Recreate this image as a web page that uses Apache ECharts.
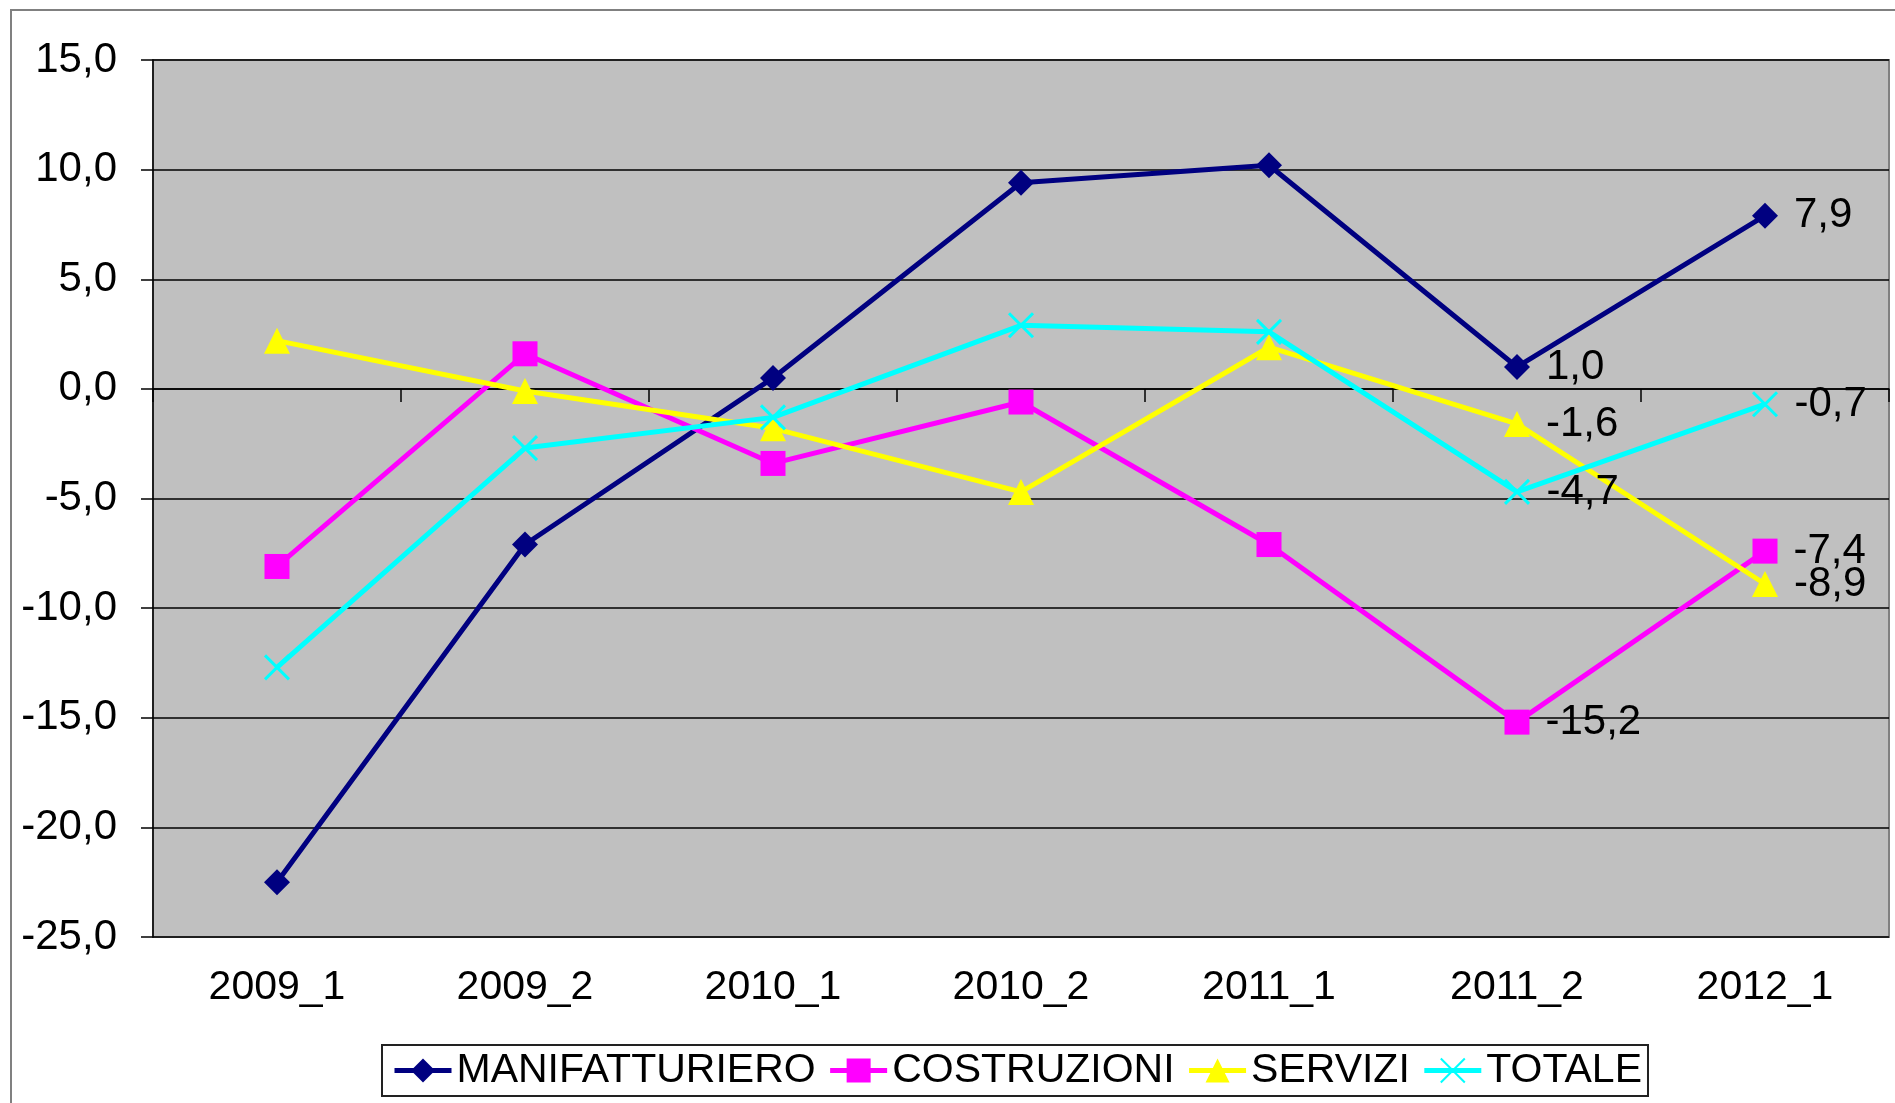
<!DOCTYPE html>
<html>
<head>
<meta charset="utf-8">
<title>Andamento per settore</title>
<script src="https://cdn.jsdelivr.net/npm/echarts@6/dist/echarts.min.js"></script>
<style>
  html, body { margin: 0; padding: 0; background: #fff; }
  #chart { width: 1895px; height: 1103px; }
</style>
</head>
<body>
<div id="chart"></div>
<script>
// categorie (semestri)
const periodi = ["2009_1", "2009_2", "2010_1", "2010_2", "2011_1", "2011_2", "2012_1"];
// valori
const manifatturiero = [-22.5, -7.1, 0.5, 9.4, 10.2, 1.0, 7.9];
const costruzioni = [-8.1, 1.6, -3.4, -0.6, -7.1, -15.2, -7.4];
const servizi = [2.2, -0.1, -1.8, -4.7, 1.9, -1.6, -8.9];
const totale = [-12.7, -2.7, -1.3, 2.9, 2.6, -4.7, -0.7];
// tacche asse y
const yMin = -25;
const yMax = 15;
const yStep = 5;

const FONT = "'Liberation Sans', Arial, sans-serif";
const fmt = (v) => v.toFixed(1).replace(".", ",");

// etichette solo sugli ultimi due punti
function withLabels(values) {
  return values.map((v, i) =>
    i >= values.length - 2 ? { value: v, label: { show: true } } : v
  );
}

function makeSeries(name, values, color, symbol, symbolSize, width) {
  return {
    name,
    type: "line",
    data: withLabels(values),
    symbol,
    symbolSize,
    lineStyle: { color, width },
    itemStyle: { color, borderColor: color, borderWidth: symbol.startsWith("path") ? 3 : 0 },
    label: {
      show: false,
      position: "right",
      distance: 16,
      color: "#000",
      fontFamily: FONT,
      fontSize: 42,
      formatter: (p) => fmt(p.value),
    },
    emphasis: { disabled: true },
    animation: false,
  };
}

const chart = echarts.init(document.getElementById("chart"));
chart.setOption({
  backgroundColor: "#fff",
  animation: false,
  graphic: [
    {
      // cornice esterna
      type: "rect",
      shape: { x: 11, y: 10, width: 1900, height: 1100 },
      style: { fill: "none", stroke: "#808080", lineWidth: 2 },
      silent: true,
    },
  ],
  grid: {
    left: 153,
    top: 60,
    right: 6,
    bottom: 166,
    show: true,
    backgroundColor: "#C0C0C0",
    borderColor: "#808080",
    borderWidth: 2,
    containLabel: false,
  },
  legend: {
    left: 382,
    top: 1045,
    padding: [5, 6, 5, 10],
    borderColor: "#222",
    borderWidth: 2,
    itemWidth: 57,
    itemHeight: 30,
    itemGap: 12,
    lineStyle: { width: 5 },
    textStyle: { color: "#000", fontFamily: FONT, fontSize: 41 },
    data: ["MANIFATTURIERO", "COSTRUZIONI", "SERVIZI", "TOTALE"],
  },
  xAxis: [
    {
      // etichette in basso
      type: "category",
      data: periodi,
      position: "bottom",
      boundaryGap: true,
      axisLine: { show: false, onZero: false },
      axisTick: { show: false },
      axisLabel: { color: "#000", fontFamily: FONT, fontSize: 41, margin: 30 },
      splitLine: { show: false },
    },
    {
      // linea dello zero con le tacche
      type: "category",
      data: periodi,
      position: "top",
      boundaryGap: true,
      axisLine: { show: true, onZero: true, lineStyle: { color: "#000", width: 1.5 } },
      axisTick: { show: true, inside: true, length: 13, lineStyle: { color: "#000", width: 1.5 } },
      axisLabel: { show: false },
      splitLine: { show: false },
    },
  ],
  yAxis: {
    type: "value",
    min: yMin,
    max: yMax,
    interval: yStep,
    axisLine: { show: true, lineStyle: { color: "#000", width: 1.5 } },
    axisTick: { show: true, length: 12, lineStyle: { color: "#000", width: 1.5 } },
    axisLabel: { color: "#000", fontFamily: FONT, fontSize: 42, margin: 36, formatter: fmt },
    splitLine: { show: true, lineStyle: { color: "#000", width: 1.5 } },
  },
  series: [
    makeSeries("MANIFATTURIERO", manifatturiero, "#000080", "diamond", 26, 5),
    makeSeries("COSTRUZIONI", costruzioni, "#FF00FF", "rect", 25, 5),
    makeSeries("SERVIZI", servizi, "#FFFF00", "triangle", 26, 5),
    makeSeries("TOTALE", totale, "#00FFFF", "path://M0,0L20,20M20,0L0,20", [24, 24], 5),
  ],
});
</script>
</body>
</html>
